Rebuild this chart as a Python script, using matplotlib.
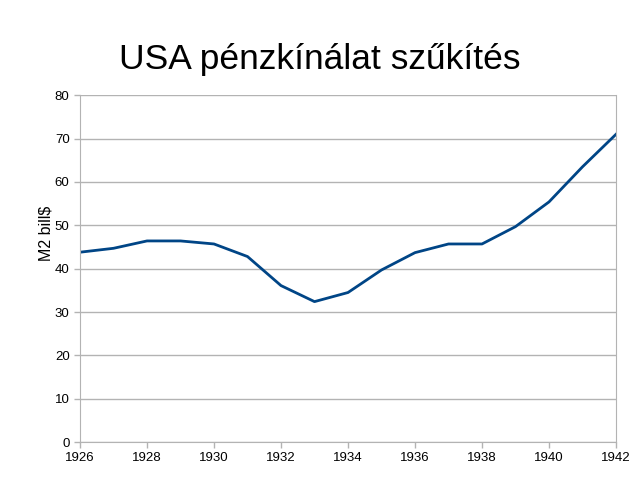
import matplotlib
matplotlib.use("Agg")
import matplotlib.pyplot as plt

plt.rcParams['font.family'] = ['Liberation Sans', 'DejaVu Sans']

years = [1926, 1927, 1928, 1929, 1930, 1931, 1932, 1933, 1934,
         1935, 1936, 1937, 1938, 1939, 1940, 1941, 1942]
m2 = [43.8, 44.7, 46.4, 46.4, 45.7, 42.8, 36.1, 32.4, 34.5,
      39.7, 43.7, 45.7, 45.7, 49.7, 55.4, 63.5, 71.0]
xticks = list(range(1926, 1943, 2))
yticks = list(range(0, 81, 10))

fig = plt.figure(figsize=(6.4, 4.8), dpi=100)
ax = fig.add_axes([0.125, 0.079, 0.8375, 0.7225])

ax.plot(years, m2, color='#004586', linewidth=2.0)

ax.set_xlim(1926, 1942)
ax.set_ylim(0, 80)
ax.set_xticks(xticks)
ax.set_yticks(yticks)
ax.grid(axis='y', color='#b3b3b3', linewidth=1)
ax.set_axisbelow(True)
for s in ax.spines.values():
    s.set_color('#b3b3b3')
ax.spines['top'].set_visible(False)
ax.tick_params(colors='#b3b3b3', labelcolor='black', labelsize=9.5, length=4, width=1)
ax.set_ylabel('M2 bill$', fontsize=11.5, labelpad=0)
ax.yaxis.set_label_coords(-0.05, 0.603)

fig.text(0.5, 0.877, 'USA pénzkínálat szűkítés', ha='center', va='center', fontsize=25.5)

fig.savefig('out.png', dpi=100)
